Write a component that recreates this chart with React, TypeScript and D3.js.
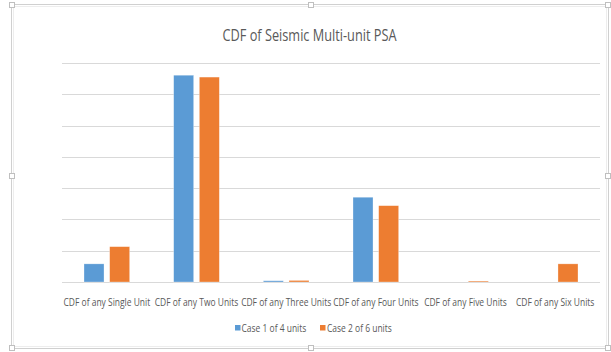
import React from "react";
import * as d3 from "d3";

const categories = [
  "CDF of any Single Unit",
  "CDF of any Two Units",
  "CDF of any Three Units",
  "CDF of any Four Units",
  "CDF of any Five Units",
  "CDF of any Six Units",
];
const seriesNames = ["Case 1 of 4 units", "Case 2 of 6 units"];
const case1 = [0.058, 0.661, 0.004, 0.271, 0, 0];
const case2 = [0.113, 0.655, 0.005, 0.244, 0.003, 0.058];
const yTicks = [0, 0.1, 0.2, 0.3, 0.4, 0.5, 0.6, 0.7];

const colors = ["#5B9BD5", "#ED7D31"];
const font = "'Open Sans', sans-serif";
const textColor = "#595959";
const SX = 0.75;

function NarrowText(props: { x: number; y: number; size: number; anchor?: string; children: React.ReactNode }) {
  return (
    <text
      transform={`translate(${props.x},${props.y}) scale(${SX},1)`}
      textAnchor={props.anchor || "start"}
      fontFamily={font}
      fontSize={props.size}
      fill={textColor}
    >
      {props.children}
    </text>
  );
}

export default function App() {
  const W = 611, H = 352;
  const left = 62, right = 600, top = 63, bottom = 282;
  const x0 = d3.scaleBand<string>().domain(categories).range([left, right]).padding(0);
  const bw = x0.bandwidth();
  const x1 = d3.scaleBand<string>().domain(seriesNames).range([22, bw - 22]).paddingInner(0.22).paddingOuter(0);
  const y = d3.scaleLinear().domain([0, 0.7]).range([bottom, top]);
  const series = [case1, case2];

  const handle = (cx: number, cy: number, k: string) => (
    <rect key={k} x={cx - 2.5} y={cy - 2.5} width={5} height={5} fill="#fff" stroke="#BFBFBF" strokeWidth={1} />
  );

  return (
    <svg width={W} height={H} style={{ position: "absolute", left: 0, top: 0, background: "#fff" }}>
      <rect x={11.5} y={4.5} width={597} height={344} fill="#fff" stroke="#D0D0D0" strokeWidth={1} />
      <rect x={13.5} y={6.5} width={593} height={340} fill="none" stroke="#EDEDED" strokeWidth={1} />
      <NarrowText x={309.5} y={41} size={17} anchor="middle">CDF of Seismic Multi-unit PSA</NarrowText>
      {yTicks.map((t) => (
        <line key={t} x1={left} x2={right} y1={Math.round(y(t)) + 0.5} y2={Math.round(y(t)) + 0.5} stroke="#D9D9D9" strokeWidth={1} />
      ))}
      {series.map((vals, si) =>
        vals.map((v, ci) => {
          if (v <= 0) return null;
          const bx = (x0(categories[ci]) as number) + (x1(seriesNames[si]) as number);
          const yy = y(v);
          return (
            <rect key={`${si}-${ci}`} x={bx} y={yy} width={x1.bandwidth()} height={Math.max(bottom - yy, 0.8)} fill={colors[si]} stroke="#fff" strokeOpacity={0.5} strokeWidth={0.6} />
          );
        })
      )}
      {categories.map((c) => (
        <NarrowText key={c} x={(x0(c) as number) + bw / 2} y={306} size={11.3} anchor="middle">{c}</NarrowText>
      ))}
      <rect x={235} y={325} width={5.5} height={5.5} fill={colors[0]} />
      <NarrowText x={241.5} y={331.5} size={11.3}>{seriesNames[0]}</NarrowText>
      <rect x={320} y={325} width={5.5} height={5.5} fill={colors[1]} />
      <NarrowText x={327} y={331.5} size={11.3}>{seriesNames[1]}</NarrowText>
      {handle(12, 5, "tl")}
      {handle(311, 5, "tm")}
      {handle(608, 5, "tr")}
      {handle(12, 176, "ml")}
      {handle(608, 176, "mr")}
      {handle(12, 348, "bl")}
      {handle(311, 348, "bm")}
      {handle(608, 348, "br")}
    </svg>
  );
}
